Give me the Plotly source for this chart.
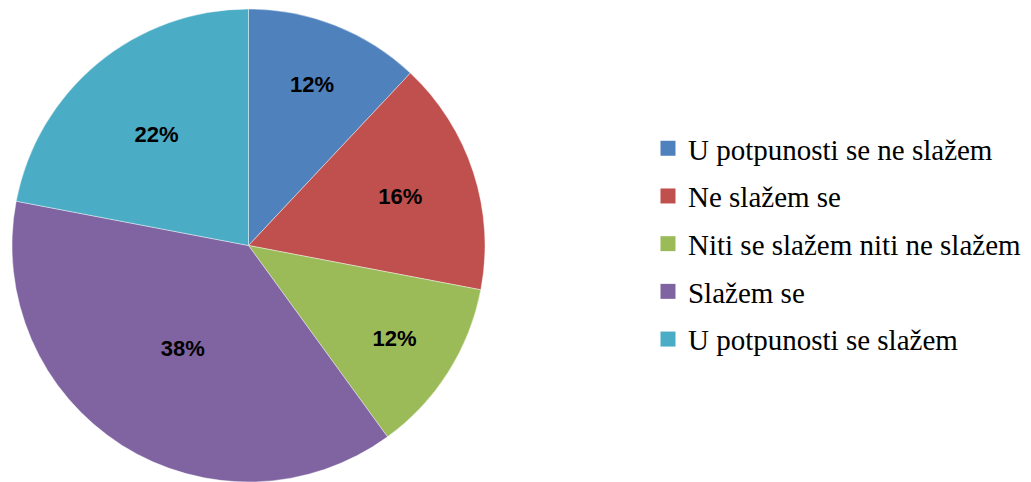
import plotly.graph_objects as go

categories = ["U potpunosti se ne slažem", "Ne slažem se", "Niti se slažem niti ne slažem",
              "Slažem se", "U potpunosti se slažem"]
values = [12, 16, 12, 38, 22]
colors = ["#4F81BD", "#C0504D", "#9BBB59", "#8064A2", "#4BACC6"]

fig = go.Figure()
fig.add_trace(go.Pie(
    labels=categories, values=values, sort=False, direction="clockwise", rotation=0,
    marker=dict(colors=colors, line=dict(color="rgba(255,255,255,0.6)", width=0.7)),
    textinfo="percent", texttemplate="%{percent:.0%}", textposition="inside",
    insidetextorientation="horizontal",
    textfont=dict(family="Liberation Sans", size=22, color="black", weight="bold"),
    showlegend=False, domain=dict(x=[12/1031, 485/1031], y=[0, 1-9/482]),
    hoverinfo="label+percent",
))
for i, (c, col) in enumerate(zip(categories, colors)):
    fig.add_trace(go.Scatter(x=[None], y=[None], mode="markers", name=c, legendgroup=f"g{i}",
                             marker=dict(symbol="square", size=15, color=col)))

fig.update_layout(
    width=1031, height=482, margin=dict(l=0, r=0, t=0, b=0),
    paper_bgcolor="white", plot_bgcolor="white",
    xaxis=dict(visible=False), yaxis=dict(visible=False),
    legend=dict(x=0.6285, y=0.745, xanchor="left", yanchor="top", traceorder="grouped",
                tracegroupgap=7, font=dict(family="Liberation Serif", size=29, color="black"),
                bgcolor="rgba(0,0,0,0)"),
)
fig.write_html("out.html", config={"displayModeBar": False},
               post_script="document.body.style.margin='0';")
